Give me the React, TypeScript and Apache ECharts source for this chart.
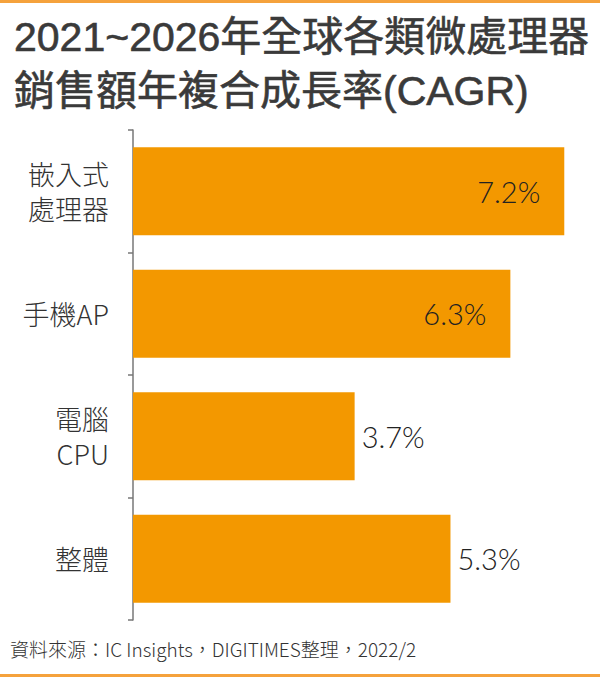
import React, { useEffect, useRef } from "react";
import * as echarts from "echarts";

const titleLines = ["2021~2026年全球各類微處理器", "銷售額年複合成長率(CAGR)"];
const categories = ["嵌入式\n處理器", "手機AP", "電腦\nCPU", "整體"];
const values = [7.2, 6.3, 3.7, 5.3];
const insideLabel = [true, true, false, false];
const source = "資料來源：IC Insights，DIGITIMES整理，2022/2";

export default function App() {
  const ref = useRef<HTMLDivElement>(null);
  useEffect(() => {
    if (!ref.current) return;
    const chart = echarts.init(ref.current, null, { renderer: "svg" });
    const cjk = '"Noto Sans CJK TC", "Noto Sans", sans-serif';
    chart.setOption({
      animation: false,
      backgroundColor: "#ffffff",
      title: {
        text: titleLines.join("\n"),
        left: 9,
        top: 5,
        textStyle: {
          fontFamily: '"Liberation Sans", "Noto Sans CJK TC", sans-serif',
          fontSize: 41,
          fontWeight: "normal",
          lineHeight: 54,
          color: "#3a3a3a",
          textBorderColor: "#3a3a3a",
          textBorderWidth: 0.6,
        },
      },
      grid: { left: 133, top: 130, bottom: 57, width: 7.5 * 59.9 },
      xAxis: {
        type: "value",
        min: 0,
        max: 7.5,
        show: false,
      },
      yAxis: {
        type: "category",
        data: categories,
        inverse: true,
        axisLine: { show: true, lineStyle: { color: "#777", width: 1.5 } },
        axisTick: { show: true, length: 5, lineStyle: { color: "#777", width: 1.5 } },
        axisLabel: {
          margin: 24,
          fontFamily: cjk,
          fontWeight: 300,
          fontSize: 27,
          lineHeight: 35,
          color: "#333",
        },
      },
      series: [
        {
          type: "bar",
          barWidth: "72%",
          itemStyle: { color: "#F39800" },
          data: values.map((v, i) => ({
            value: v,
            label: {
              show: true,
              position: insideLabel[i] ? "insideRight" : "right",
              distance: insideLabel[i] ? 24 : 7,
              formatter: (p: any) => p.value + "%",
              fontFamily: '"Lato", "Noto Sans", sans-serif',
              fontWeight: 300,
              fontSize: 29,
              color: "#222",
            },
          })),
        },
      ],
      graphic: [
        { type: "rect", shape: { x: 0, y: 0, width: 600, height: 3 }, style: { fill: "#F5A23C" } },
        { type: "rect", shape: { x: 0, y: 674, width: 600, height: 3 }, style: { fill: "#F5A23C" } },
        {
          type: "text",
          left: 10,
          top: 639,
          style: {
            text: source,
            fontFamily: cjk,
            fontSize: 19,
            fontWeight: 300,
            fill: "#333",
          },
        },
      ],
    });
    return () => chart.dispose();
  }, []);
  return (
    <div
      ref={ref}
      style={{ position: "fixed", left: 0, top: 0, width: 600, height: 677 }}
    />
  );
}
